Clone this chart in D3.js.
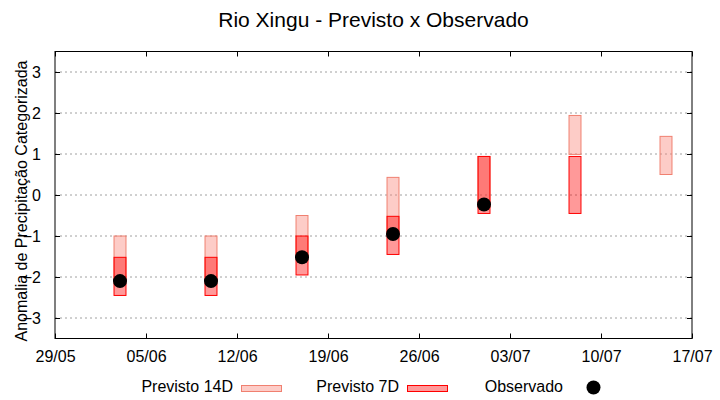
<!DOCTYPE html>
<html>
<head>
<meta charset="utf-8">
<script src="https://cdn.jsdelivr.net/npm/d3@7"></script>
<style>
  body { margin: 0; background: #fff; }
  text { font-family: 'Liberation Sans', Arial, sans-serif; }
</style>
</head>
<body>
<div class="d3-container"></div>
<script>
const w = 720
const h = 400
const m = { top: 51.5, right: 28, bottom: 61.5, left: 55 }

// data
const dates = ['03/06', '10/06', '17/06', '24/06', '01/07', '08/07', '15/07']
const p14Top = [-1.0, -1.0, -0.5, 0.43, 0.94, 1.94, 1.43]
const p14Bot = [-2.1, -2.1, -1.5, -0.95, -0.3, 0.99, 0.5]
const p7Top = [-1.52, -1.52, -1.0, -0.52, 0.94, 0.94, null]
const p7Bot = [-2.45, -2.45, -1.95, -1.45, -0.45, -0.45, null]
const obs = [-2.1, -2.1, -1.52, -0.95, -0.23, null, null]
const xTicks = ['29/05', '05/06', '12/06', '19/06', '26/06', '03/07', '10/07', '17/07']
const yTicks = [-3, -2, -1, 0, 1, 2, 3]

const parse = d3.utcParse('%d/%m/%Y')
const toDate = (s) => parse(s + '/2023')
const day = 864e5

const svg = d3.select('.d3-container')
    .append('svg')
    .attr('width', w)
    .attr('height', h)

const x = d3.scaleUtc()
    .domain([toDate(xTicks[0]), toDate(xTicks[xTicks.length - 1])])
    .range([m.left, w - m.right])

const y = d3.scaleLinear()
    .domain([-3.5, 3.5])
    .range([h - m.bottom, m.top])

// grid
svg.append('g')
    .selectAll('line')
    .data(yTicks)
    .enter()
    .append('line')
    .attr('x1', m.left)
    .attr('x2', w - m.right)
    .attr('y1', (d) => y(d))
    .attr('y2', (d) => y(d))
    .attr('stroke', '#a0a0a0')
    .attr('stroke-dasharray', '2,3')

// axes with inward ticks
const fmt = d3.utcFormat('%d/%m')
const xt = xTicks.map(toDate)

const axBottom = svg.append('g')
    .attr('transform', `translate(0, ${h - m.bottom})`)
    .call(d3.axisBottom(x).tickValues(xt).tickFormat(fmt).tickSize(-5).tickSizeOuter(0).tickPadding(12))
const axTop = svg.append('g')
    .attr('transform', `translate(0, ${m.top})`)
    .call(d3.axisTop(x).tickValues(xt).tickFormat('').tickSize(-5).tickSizeOuter(0))
const axLeft = svg.append('g')
    .attr('transform', `translate(${m.left}, 0)`)
    .call(d3.axisLeft(y).tickValues(yTicks).tickFormat(d3.format('d')).tickSize(-5).tickSizeOuter(0).tickPadding(14))
const axRight = svg.append('g')
    .attr('transform', `translate(${w - m.right}, 0)`)
    .call(d3.axisRight(y).tickValues(yTicks).tickFormat('').tickSize(-5).tickSizeOuter(0))

;[axBottom, axTop, axLeft, axRight].forEach((g) => {
    g.select('.domain').remove()
    g.selectAll('text').attr('font-size', 16).attr('fill', '#000').attr('font-family', "'Liberation Sans', Arial, sans-serif")
    g.selectAll('line').attr('stroke', '#000')
})
axLeft.selectAll('text').attr('dy', '0.36em')

svg.append('rect')
    .attr('x', m.left)
    .attr('y', m.top)
    .attr('width', w - m.left - m.right)
    .attr('height', h - m.top - m.bottom)
    .attr('fill', 'none')
    .attr('stroke', '#000')

// bars
const half = 0.46 * day
const rows = dates.map((d, i) => ({
    t: toDate(d), t14: p14Top[i], b14: p14Bot[i], t7: p7Top[i], b7: p7Bot[i], o: obs[i]
}))

const barX = (d) => x(new Date(d.t.getTime() - half))
const barW = (d) => x(new Date(d.t.getTime() + half)) - barX(d)

svg.append('g')
    .selectAll('rect')
    .data(rows.filter((d) => d.t14 != null))
    .enter()
    .append('rect')
    .attr('x', barX)
    .attr('width', barW)
    .attr('y', (d) => y(d.t14))
    .attr('height', (d) => y(d.b14) - y(d.t14))
    .attr('fill', 'rgba(250,128,114,0.4)')
    .attr('stroke', '#f08070')

svg.append('g')
    .selectAll('rect')
    .data(rows.filter((d) => d.t7 != null))
    .enter()
    .append('rect')
    .attr('x', barX)
    .attr('width', barW)
    .attr('y', (d) => y(d.t7))
    .attr('height', (d) => y(d.b7) - y(d.t7))
    .attr('fill', 'rgba(255,0,0,0.4)')
    .attr('stroke', '#ff0000')

svg.append('g')
    .selectAll('circle')
    .data(rows.filter((d) => d.o != null))
    .enter()
    .append('circle')
    .attr('cx', (d) => x(d.t))
    .attr('cy', (d) => y(d.o))
    .attr('r', 7)
    .attr('fill', '#000')

// title and label
svg.append('text')
    .attr('x', (m.left + w - m.right) / 2)
    .attr('y', 27)
    .attr('text-anchor', 'middle')
    .attr('font-size', 21)
    .text('Rio Xingu - Previsto x Observado')

svg.append('text')
    .attr('transform', 'translate(27, 201) rotate(-90)')
    .attr('text-anchor', 'middle')
    .attr('font-size', 16)
    .text('Anomalia de Precipitação Categorizada')

// legend
const ly = 392
const legend = svg.append('g')
const items = [
    { label: 'Previsto 14D', end: 233, fill: 'rgba(250,128,114,0.4)', stroke: '#f08070' },
    { label: 'Previsto 7D', end: 399, fill: 'rgba(255,0,0,0.4)', stroke: '#ff0000' },
    { label: 'Observado', end: 563 }
]
items.forEach((it) => {
    legend.append('text')
        .attr('x', it.end)
        .attr('y', ly)
        .attr('text-anchor', 'end')
        .attr('font-size', 16)
        .text(it.label)
    if (it.fill) {
        legend.append('rect')
            .attr('x', it.end + 8.5)
            .attr('y', ly - 6.5)
            .attr('width', 40)
            .attr('height', 6)
            .attr('fill', it.fill)
            .attr('stroke', it.stroke)
    } else {
        legend.append('circle')
            .attr('cx', it.end + 30.5)
            .attr('cy', ly - 4.5)
            .attr('r', 7)
            .attr('fill', '#000')
    }
})
</script>
</body>
</html>
